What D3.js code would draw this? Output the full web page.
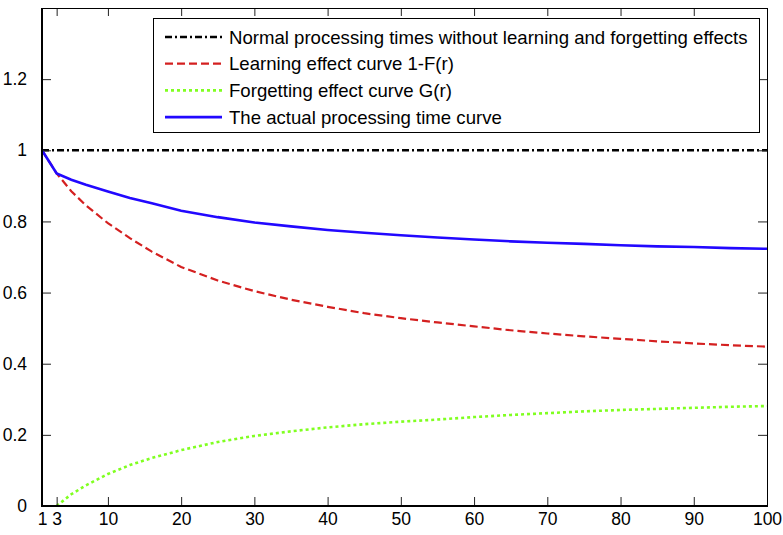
<!DOCTYPE html>
<html>
<head>
<meta charset="utf-8">
<script src="https://cdn.jsdelivr.net/npm/d3@7"></script>
<style>
body { margin: 0; background: #fff; }
text { font-family: Arial, "Liberation Sans", sans-serif; fill: #000; }
</style>
</head>
<body>
<script>
var width = 783,
    height = 535,
    margin = { left: 42, top: 8, right: 16, bottom: 29 };

// job position r
var positions = [1, 3, 5, 7, 10, 13, 16, 20, 25, 30, 35, 40, 45, 50, 55, 60, 65, 70, 75, 80, 85, 90, 95, 100];
var normalTime = 1;
var learning = [1.0, 0.935, 0.885, 0.845, 0.795, 0.753, 0.715, 0.672, 0.634, 0.604, 0.58, 0.56, 0.542, 0.528, 0.516, 0.505, 0.494, 0.485, 0.477, 0.47, 0.463, 0.457, 0.452, 0.448];
var forgetting = [null, 0, 0.033, 0.058, 0.09, 0.115, 0.135, 0.157, 0.18, 0.197, 0.21, 0.221, 0.23, 0.237, 0.243, 0.25, 0.256, 0.261, 0.266, 0.27, 0.273, 0.276, 0.279, 0.281];
var actual = [1.0, 0.935, 0.917, 0.903, 0.884, 0.866, 0.851, 0.83, 0.812, 0.797, 0.786, 0.776, 0.768, 0.761, 0.755, 0.749, 0.744, 0.74, 0.737, 0.733, 0.73, 0.728, 0.725, 0.723];

var xTicks = [1, 3, 10, 20, 30, 40, 50, 60, 70, 80, 90, 100];
var yTicks = [0, 0.2, 0.4, 0.6, 0.8, 1, 1.2];
var legendNames = [
    "Normal processing times without learning and forgetting effects",
    "Learning effect curve 1-F(r)",
    "Forgetting effect curve G(r)",
    "The actual processing time curve"
];
var colors = ["#000000", "#d42020", "#80ff20", "#2208ff"];
var dashes = ["7,3,2,3", "8,4", "3,3", null];
var widths = [2.4, 2.2, 2.6, 2.6];

var svg = d3.select("body").append("svg")
    .attr("width", width)
    .attr("height", height);

var x = d3.scaleLinear().domain([1, 100]).range([margin.left, width - margin.right]);
var y = d3.scaleLinear().domain([0, 1.4]).range([height - margin.bottom, margin.top]);

var series = [
    positions.map(function(p) { return [p, normalTime]; }),
    positions.map(function(p, i) { return [p, learning[i]]; }),
    positions.map(function(p, i) { return [p, forgetting[i]]; }),
    positions.map(function(p, i) { return [p, actual[i]]; })
];

var line = d3.line()
    .defined(function(d) { return d[1] != null; })
    .x(function(d) { return x(d[0]); })
    .y(function(d) { return y(d[1]); });

svg.selectAll("path.curve")
    .data(series)
    .enter().append("path")
    .attr("class", "curve")
    .attr("d", line)
    .attr("fill", "none")
    .attr("stroke", function(d, i) { return colors[i]; })
    .attr("stroke-width", function(d, i) { return widths[i]; })
    .attr("stroke-dasharray", function(d, i) { return dashes[i]; });

// axes, MATLAB style: ticks inside on all four sides
var x0 = x.range()[0], x1 = x.range()[1], y0 = y.range()[0], y1 = y.range()[1];

svg.append("g")
    .attr("transform", "translate(0," + y0 + ")")
    .call(d3.axisBottom(x).tickValues(xTicks).tickSizeInner(-9).tickSizeOuter(0).tickPadding(15))
    .call(function(g) {
        g.select(".domain").remove();
        g.selectAll("text").attr("font-size", "17.5px").attr("dy", "0.2em");
    });

svg.append("g")
    .attr("transform", "translate(0," + y1 + ")")
    .call(d3.axisTop(x).tickValues(xTicks).tickSizeInner(-8).tickSizeOuter(0).tickFormat(""))
    .call(function(g) { g.select(".domain").remove(); });

svg.append("g")
    .attr("transform", "translate(" + x0 + ",0)")
    .call(d3.axisLeft(y).tickValues(yTicks).tickSizeInner(-9).tickSizeOuter(0).tickPadding(15).tickFormat(d3.format("")))
    .call(function(g) {
        g.select(".domain").remove();
        g.selectAll("text").attr("font-size", "17.5px");
    });

svg.append("g")
    .attr("transform", "translate(" + x1 + ",0)")
    .call(d3.axisRight(y).tickValues(yTicks).tickSizeInner(-9).tickSizeOuter(0).tickFormat(""))
    .call(function(g) { g.select(".domain").remove(); });

svg.selectAll(".tick line").attr("stroke", "#222");

svg.append("line").attr("x1", x0).attr("x2", x1).attr("y1", y1 + 0.5).attr("y2", y1 + 0.5).attr("stroke", "#000").attr("stroke-width", 1);
svg.append("line").attr("x1", x1 + 0.5).attr("x2", x1 + 0.5).attr("y1", y1).attr("y2", y0).attr("stroke", "#000").attr("stroke-width", 1);
svg.append("line").attr("x1", x0).attr("x2", x0).attr("y1", y1).attr("y2", y0 + 1).attr("stroke", "#000").attr("stroke-width", 2);
svg.append("line").attr("x1", x0 - 1).attr("x2", x1 + 1).attr("y1", y0).attr("y2", y0).attr("stroke", "#000").attr("stroke-width", 2);

// legend
var legend = svg.append("g").attr("transform", "translate(153,18)");
legend.append("rect")
    .attr("x", 0.5).attr("y", 0.5)
    .attr("width", 606).attr("height", 114)
    .attr("fill", "#fff")
    .attr("stroke", "#000");

var item = legend.selectAll("g.item")
    .data(legendNames)
    .enter().append("g")
    .attr("class", "item")
    .attr("transform", function(d, i) { return "translate(0," + (19 + i * 26.7) + ")"; });

item.append("line")
    .attr("x1", 12).attr("x2", 69)
    .attr("stroke", function(d, i) { return colors[i]; })
    .attr("stroke-width", function(d, i) { return widths[i]; })
    .attr("stroke-dasharray", function(d, i) { return dashes[i]; });

item.append("text")
    .attr("x", 76)
    .attr("dy", "0.35em")
    .attr("font-size", "18.6px")
    .text(function(d) { return d; });
</script>
</body>
</html>
